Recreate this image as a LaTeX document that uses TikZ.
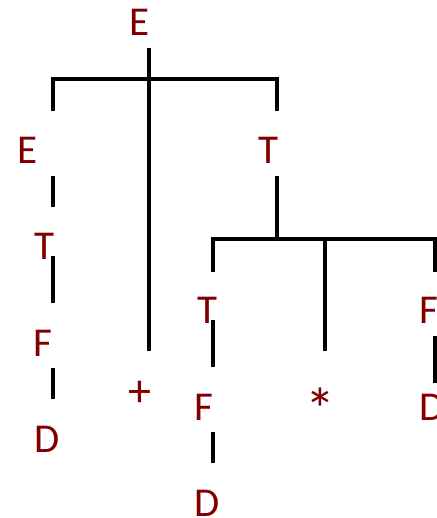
\documentclass[tikz,border=0pt]{standalone}
\usepackage{fontspec}
\setmainfont{Carlito}
\definecolor{sym}{RGB}{128,0,0}
\begin{document}
\begin{tikzpicture}[x=1pt,y=-1pt,
  lbl/.style={text=sym,font=\fontsize{41}{41}\selectfont,inner sep=0pt,anchor=base},
  edge/.style={line width=4pt,line cap=butt,line join=miter}]
\useasboundingbox (0,0) rectangle (436,518);
% labels
\node[lbl] (E0) at (140,36) {E};
\node[lbl] (E1) at (28,164) {E};
\node[lbl] (T1) at (268,164) {T};
\node[lbl] (T2) at (44,259) {T};
\node[lbl] (F2) at (43,356) {F};
\node[lbl] (D2) at (47,452) {D};
\node[lbl,font=\fontsize{46}{46}\selectfont] (plus) at (140,406) {+};
\node[lbl] (T3) at (207,323) {T};
\node[lbl] (F3) at (204,420) {F};
\node[lbl] (D3) at (207,516) {D};
\node[lbl,font=\fontsize{60}{60}\selectfont] (star) at (320,430) {*};
\node[lbl] (F4) at (429,323) {F};
\node[lbl] (D4) at (432,420) {D};
% junction coordinates
\coordinate (j1) at (149,79.5);
\coordinate (j2) at (277,239);
% top level
\draw[edge] (149,48) -- (149,351);
\draw[edge] (53,111) -- (53,79.5) -- (277,79.5) -- (277,111);
% left chain
\draw[edge] (53,176) -- (53,207);
\draw[edge] (53,256) -- (53,303);
\draw[edge] (53,368) -- (53,399);
% right subtree
\draw[edge] (277,176) -- (j2);
\draw[edge] (213,272) -- (213,239) -- (435,239) -- (435,272);
\draw[edge] (325,239) -- (325,351);
\draw[edge] (213,320) -- (213,367);
\draw[edge] (213,432) -- (213,463);
\draw[edge] (435,336) -- (435,383);
\end{tikzpicture}
\end{document}
